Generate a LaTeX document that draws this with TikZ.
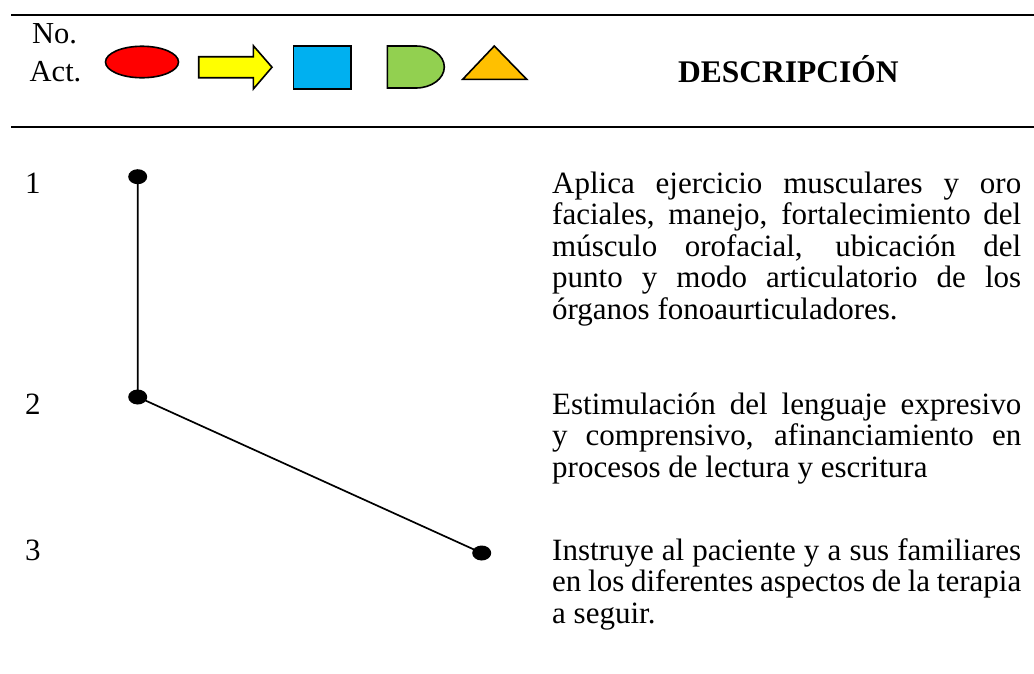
\documentclass[tikz,border=0pt]{standalone}
\usepackage{fontspec}
\setmainfont{Liberation Serif}
\usetikzlibrary{shapes.geometric}
\definecolor{cred}{HTML}{FF0000}
\definecolor{cyellow}{HTML}{FFFF00}
\definecolor{cblue}{HTML}{00B0F0}
\definecolor{cgreen}{HTML}{92D050}
\definecolor{corange}{HTML}{FFC000}
\tikzset{
  rule/.style={line width=2pt},
  sym/.style={draw=black, line width=1.6pt, line join=miter},
  hdr/.style={anchor=base west, inner sep=0pt, font=\fontsize{30.5}{32}\selectfont},
  body/.style={anchor=base west, inner sep=0pt, font=\fontsize{31}{32}\selectfont},
  dot/.style={ellipse, fill=black, minimum width=19pt, minimum height=15pt, inner sep=0pt},
  link/.style={line width=1.7pt}
}
\newcommand{\jl}[1]{\makebox[469pt][s]{#1}}
\begin{document}
\begin{tikzpicture}[x=1pt,y=-1pt]
\useasboundingbox (0,0) rectangle (1034,673);
% header rules
\draw[rule] (11,15) -- (1034,15);
\draw[rule] (11,127) -- (1034,127);
% header texts
\node[hdr] (no) at (32,43) {No.};
\node[hdr] (act) at (29.5,81) {Act.};
\node[hdr, font=\fontsize{31.5}{32}\selectfont\bfseries] (desc) at (678,82) {DESCRIPCIÓN};
% symbols
\node[sym, ellipse, fill=cred, minimum width=73pt, minimum height=31.5pt, inner sep=0pt] (sell) at (142,62) {};
\draw[sym, fill=cyellow] (198.7,56.7) -- (253.3,56.7) -- (253.3,45.7) -- (272,67.2) -- (253.3,89) -- (253.3,77.7) -- (198.7,77.7) -- cycle;
\draw[sym, fill=cblue] (293.3,46) rectangle (350.7,88.7);
\draw[sym, fill=cgreen] (387.3,46) -- (416,46) .. controls (431.5,46) and (444.3,55.4) .. (444.3,67) .. controls (444.3,78.6) and (431.5,88) .. (416,88) -- (387.3,88) -- cycle;
\draw[sym, fill=corange] (462.7,79.3) -- (494.3,46) -- (526.7,79.3) -- cycle;
% numbers
\node[body] (n1) at (25,193) {1};
\node[body] (n2) at (25,414) {2};
\node[body] (n3) at (25,560) {3};
% dots and connectors
\node[dot] (d1) at (137.7,176.7) {};
\node[dot] (d2) at (137.7,397) {};
\node[dot] (d3) at (481.7,553) {};
\draw[link] (d1.center) -- (d2.center) -- (d3.center);
% descriptions
\node[body] (p1a) at (552,193) {\jl{Aplica ejercicio musculares y oro}};
\node[body] (p1b) at (552,224.5) {\jl{faciales, manejo, fortalecimiento del}};
\node[body] (p1c) at (552,256) {\jl{músculo orofacial, ubicación del}};
\node[body] (p1d) at (552,287.5) {\jl{punto y modo articulatorio de los}};
\node[body] (p1e) at (552,319) {órganos fonoaurticuladores.};
\node[body] (p2a) at (552,414) {\jl{Estimulación del lenguaje expresivo}};
\node[body] (p2b) at (552,445.5) {\jl{y comprensivo, afinanciamiento en}};
\node[body] (p2c) at (552,477) {procesos de lectura y escritura};
\node[body] (p3a) at (552,560) {\jl{Instruye al paciente y a sus familiares}};
\node[body] (p3b) at (552,591.5) {\jl{en los diferentes aspectos de la terapia}};
\node[body] (p3c) at (552,623) {a seguir.};
\end{tikzpicture}
\end{document}
